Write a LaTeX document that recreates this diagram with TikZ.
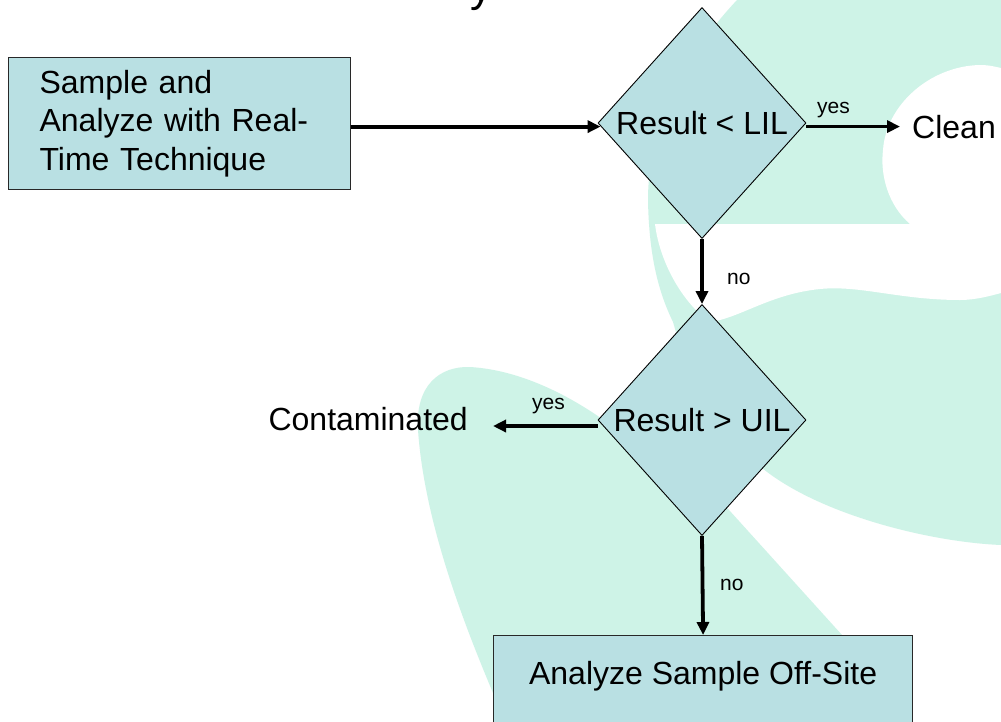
\documentclass[tikz,border=0pt]{standalone}
\usepackage{fontspec}
\setmainfont{Liberation Sans}
\usetikzlibrary{shapes.geometric,arrows.meta}
\definecolor{mint}{RGB}{206,243,231}
\definecolor{boxfill}{RGB}{185,224,227}
\definecolor{boxline}{RGB}{40,40,40}
\begin{document}
\begin{tikzpicture}[x=1pt,y=-1pt,
  bigtext/.style={font=\fontsize{32}{38.5}\selectfont},
  smalltext/.style={font=\fontsize{21}{24}\selectfont, inner sep=0pt},
  procbox/.style={rectangle, draw=boxline, line width=1.2pt, fill=boxfill},
  decision/.style={diamond, draw=black, line width=0.9pt, fill=boxfill, aspect=0.9,
    inner sep=0pt, minimum width=208pt, minimum height=231pt,
    font=\fontsize{32}{38.5}\selectfont},
  arr/.style={line width=3.8pt, -{Triangle[length=13pt,width=12pt]}}
]
\clip (0,0) rectangle (1001,721);
\fill[white] (0,0) rectangle (1001,721);

% background logo
\fill[mint] (737,0) -- (1001,0) -- (1001,545)
  .. controls (930,542) and (820,515) .. (762,468)
  -- (720,500) -- (842,635) -- (892,721) -- (505,721)
  .. controls (470,640) and (425,530) .. (418,430)
  .. controls (415,385) and (440,366) .. (470,367)
  .. controls (520,370) and (570,395) .. (612,426)
  -- (690,380) -- (673,322)
  .. controls (660,295) and (649,260) .. (648,200)
  .. controls (648,120) and (690,50) .. (737,0) -- cycle;
\fill[white] (655,224) -- (910,224)
  .. controls (888,205) and (880,175) .. (883,150)
  .. controls (886,105) and (930,66) .. (980,65)
  .. controls (990,65) and (996,67) .. (1001,68)
  -- (1001,293)
  .. controls (990,296) and (975,300) .. (960,300)
  .. controls (900,300) and (860,285) .. (820,289)
  .. controls (770,294) and (740,318) .. (710,322)
  .. controls (685,305) and (660,265) .. (655,224) -- cycle;

% cut-off title
\node[font=\fontsize{44}{50}\selectfont, inner sep=0pt, anchor=base west] (title) at (470,1) {y};

% nodes
\node[procbox, bigtext, text width=280pt, inner xsep=31pt, inner ysep=0pt,
  minimum height=132pt, align=left, anchor=north west] (sample) at (8,57)
  {Sample and\\Analyze with Real-\\Time Technique};
\node[decision] (lil) at (702,123) {Result < LIL};
\node[decision] (uil) at (702,420) {Result > UIL};
\node[bigtext, inner sep=0pt, anchor=base west] (clean) at (912,138) {Clean};
\node[bigtext, inner sep=0pt, anchor=base east] (contam) at (468,430) {Contaminated};
\node[procbox, bigtext, anchor=north west, minimum width=419pt,
  text height=49pt, text depth=100pt, inner ysep=0pt] (offsite) at (493,635)
  {Analyze Sample Off-Site};

% labels
\node[smalltext, anchor=base west] (yes1) at (817,113) {yes};
\node[smalltext, anchor=base west] (no1) at (727,284) {no};
\node[smalltext, anchor=base west] (yes2) at (532,409) {yes};
\node[smalltext, anchor=base west] (no2) at (720,590) {no};

% connectors
\draw[arr, shorten >=-3pt] ([yshift=-3pt]sample.east) -- ([yshift=-3pt]sample.east -| lil.west);
\draw[arr, shorten >=12pt] (clean.west -| lil.east) -- (clean.west);
\draw[arr] (lil.south) -- (uil.north);
\draw[arr, shorten >=25pt] ([yshift=-6pt]uil.west) -- ([yshift=-6pt]uil.west -| contam.east);
\draw[arr] (uil.south) -- (offsite.north);
\end{tikzpicture}
\end{document}
